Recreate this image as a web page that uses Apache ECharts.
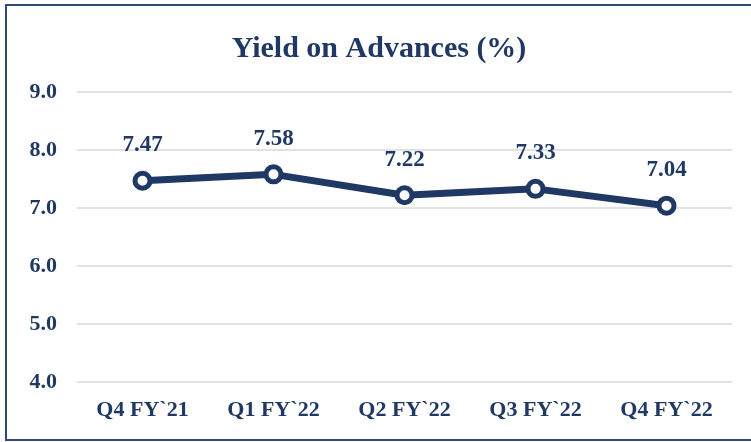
<!DOCTYPE html>
<html>
<head>
<meta charset="utf-8">
<script src="https://cdn.jsdelivr.net/npm/echarts@6/dist/echarts.min.js"></script>
<style>
    html, body { margin: 0; padding: 0; background: #fff; }
    #main { position: absolute; left: 5px; top: 4px; width: 746px; height: 437px; box-sizing: border-box; border: 2px solid #2E4A75; border-right: none; }
</style>
</head>
<body>
<div id="main"></div>
<script>
// 数据
const categories = ['Q4 FY`21', 'Q1 FY`22', 'Q2 FY`22', 'Q3 FY`22', 'Q4 FY`22'];
const yieldValues = [7.47, 7.58, 7.22, 7.33, 7.04];

const navy = '#203864';
const fontFamily = '"Liberation Serif", "DejaVu Serif", serif';

let myChart = echarts.init(document.getElementById('main'));
let option = {
    animation: false,
    title: {
        text: 'Yield on Advances (%)',
        left: 'center',
        top: 23,
        textStyle: {
            color: navy,
            fontFamily: fontFamily,
            fontWeight: 'bold',
            fontSize: 30
        }
    },
    grid: {
        left: 70,
        right: 19,
        top: 86,
        bottom: 57,
        containLabel: false
    },
    xAxis: {
        type: 'category',
        data: categories,
        boundaryGap: true,
        axisLine: {show: false},
        axisTick: {show: false},
        axisLabel: {
            color: navy,
            fontFamily: fontFamily,
            fontWeight: 'bold',
            fontSize: 22,
            margin: 17
        }
    },
    yAxis: {
        type: 'value',
        min: 4,
        max: 9,
        interval: 1,
        axisLine: {show: false},
        axisTick: {show: false},
        splitLine: {lineStyle: {color: '#D9D9D9', width: 1.5}},
        axisLabel: {
            color: navy,
            fontFamily: fontFamily,
            fontWeight: 'bold',
            fontSize: 22,
            margin: 20,
            formatter: function (v) { return v.toFixed(1); }
        }
    },
    series: [{
        type: 'line',
        data: yieldValues,
        symbol: 'circle',
        symbolSize: 15,
        lineStyle: {color: navy, width: 7},
        itemStyle: {color: '#fff', borderColor: navy, borderWidth: 5},
        label: {
            show: true,
            position: 'top',
            distance: 14,
            color: navy,
            fontFamily: fontFamily,
            fontWeight: 'bold',
            fontSize: 23,
            formatter: function (p) { return p.value.toFixed(2); }
        }
    }]
};
myChart.setOption(option);
</script>
</body>
</html>
